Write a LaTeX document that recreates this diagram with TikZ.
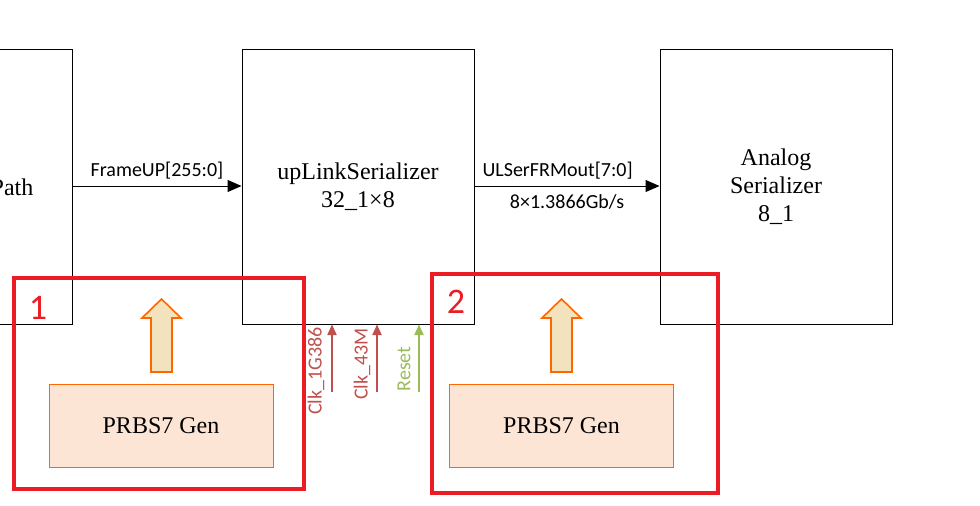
\documentclass[tikz,border=0pt]{standalone}
\usepackage{fontspec}
\setmainfont{Liberation Serif}
\newfontfamily\lblfont{Carlito}
\usetikzlibrary{arrows.meta,positioning}
\definecolor{boxred}{RGB}{237,28,36}
\definecolor{genfill}{RGB}{253,229,213}
\definecolor{genline}{RGB}{255,102,0}
\definecolor{upfill}{RGB}{242,226,190}
\definecolor{clkred}{RGB}{192,80,77}
\definecolor{rstgreen}{RGB}{155,187,89}

\begin{document}
\begin{tikzpicture}[x=0.75pt,y=-0.75pt,line width=0.75pt,
    block/.style={draw,minimum width=174pt,minimum height=205.5pt,align=center,font=\fontsize{18}{21}\selectfont},
    gen/.style={draw=genline,fill=genfill,minimum width=168pt,minimum height=62.25pt,font=\fontsize{18}{21}\selectfont},
    bus/.style={-{Triangle[length=10.5pt,width=9pt]}},
    sig/.style={-{Triangle[length=8pt,width=7pt]},line width=1pt},
    lbl/.style={font=\lblfont\fontsize{15}{18}\selectfont},
    grp/.style={draw=boxred,line width=3pt},
    grpnum/.style={text=boxred,font=\lblfont\fontsize{27}{30}\selectfont},
    uparrow/.style={draw=genline,fill=upfill,line width=1.2pt,line join=miter}]
\useasboundingbox (0,0) rectangle (980,506);
\clip (0,0) rectangle (980,506);

% main blocks
\node [block,minimum width=90pt] (dp) at (12,187) {Path};
\node [block] (uls) at (358,187) {upLinkSerializer\\32\_1×8};
\node [block] (as) at (776,187) {Analog\\Serializer\\8\_1};

\draw [bus] (dp.east |- 0,186) -- (uls.west |- 0,186) node [midway,above=1pt,lbl] {FrameUP[255:0]};
\draw [bus] (uls.east |- 0,186) -- (as.west |- 0,186) node [midway,above=1pt,lbl,xshift=-7pt] {ULSerFRMout[7:0]} node [midway,below=3pt,lbl] {8×1.3866Gb/s};

% clocks and reset
\coordinate (clkA) at (332,392);
\coordinate (clkB) at (377,392);
\coordinate (rst) at (419,392);
\draw [sig,draw=clkred,color=clkred] (clkA) -- (clkA |- uls.south);
\draw [sig,draw=clkred,color=clkred] (clkB) -- (clkB |- uls.south);
\draw [sig,draw=rstgreen,color=rstgreen] (rst) -- (rst |- uls.south);
\node [lbl,rotate=90,text=clkred] (clkAl) at (316,371) {Clk\_1G386};
\node [lbl,rotate=90,text=clkred] (clkBl) at (362,364) {Clk\_43M};
\node [lbl,rotate=90,text=rstgreen] (rstl) at (404,369) {Reset};

% PRBS generators
\node [gen] (gen1) at (161,425.5) {PRBS7 Gen};
\node [gen] (gen2) at (561.5,426) {PRBS7 Gen};
\draw [uparrow] (151,372) -- (151,318) -- (142,318) -- (161.5,299) -- (181,318) -- (172,318) -- (172,372) -- cycle;
\draw [uparrow] (551,372) -- (551,318) -- (542,318) -- (561.5,299) -- (581,318) -- (572,318) -- (572,372) -- cycle;

% groups
\draw [grp] (14,278) rectangle (304,489);
\draw [grp] (432,274) rectangle (718,493);
\node [grpnum] (n1) at (38,308) {1};
\node [grpnum] (n2) at (456,302) {2};
\end{tikzpicture}
\end{document}
